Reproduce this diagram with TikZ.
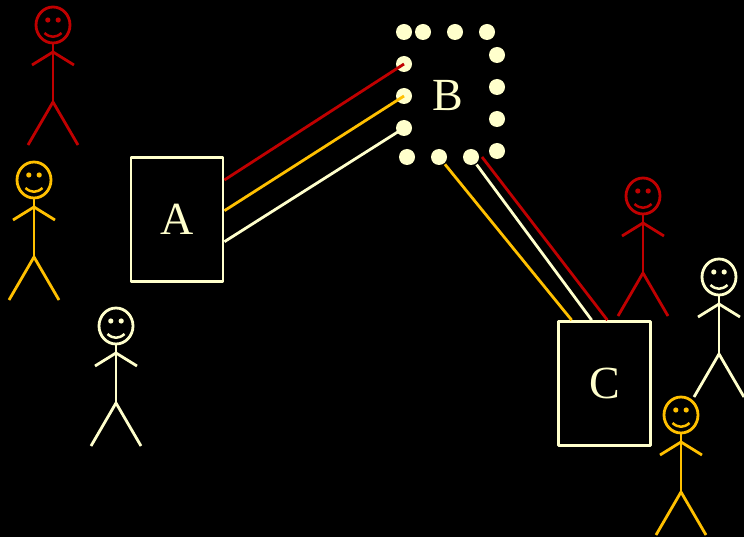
\documentclass[tikz,border=0pt]{standalone}
\usepackage{fontspec}
\setmainfont{Liberation Serif}
\usetikzlibrary{calc,positioning}
\definecolor{darkred}{HTML}{C00000}
\definecolor{gold}{HTML}{FFC000}
\definecolor{cream}{HTML}{FFFFCC}
\tikzset{
    x=1pt,y=-1pt,
    box/.style ={rectangle, draw=cream, text=cream, inner sep=0pt,
        minimum width=92pt, minimum height=124pt, font=\fontsize{46}{46}\selectfont},
    dot/.style = {circle, fill=cream, inner sep=0pt, minimum size=16pt, node contents={}},
    stickman/.pic = {
        % head and face
        \draw (0,0) ellipse [x radius=17pt, y radius=18pt];
        \fill (-5.2,-5) circle [radius=2.6pt];
        \fill (5.2,-5) circle [radius=2.6pt];
        \draw[line width=2.5pt] (-8.5,8) .. controls (-3,13) and (3,13) .. (8.5,8);
        % body, arms, legs
        \draw (0,18) -- (0,77);
        \draw (-21,40) -- (0,27) -- (21,40);
        \draw (-25,120) -- (0,77) -- (25,120);
    }
}

\begin{document}
\begin{tikzpicture}[line width=2.8pt,line join=round]

    \useasboundingbox (0,0) rectangle (744,537);
    \fill[black] (0,0) rectangle (744,537);
    \clip (0,0) rectangle (744,537);

    % people
    \pic[color=darkred] at (53,25) {stickman};
    \pic[color=gold] at (34,180) {stickman};
    \pic[color=cream] at (116,326) {stickman};
    \pic[color=darkred] at (643,196) {stickman};
    \pic[color=cream] at (719,277) {stickman};
    \pic[color=gold] at (681,415) {stickman};

    % A and C
    \node[box] (A) at (177,219.5) {A};
    \node[box] (C) at (604.75,383.5) {C};

    % B with its ring of dots
    \node[text=cream, font=\fontsize{46}{46}\selectfont] (B) at (448,96) {B};
    \node (t1) at (404,32) [dot];
    \node (t2) at (423,32) [dot];
    \node (t3) at (455,32) [dot];
    \node (t4) at (487,32) [dot];
    \node (r1) at (497,55) [dot];
    \node (r2) at (497,87) [dot];
    \node (r3) at (497,119) [dot];
    \node (r4) at (497,151) [dot];
    \node (l1) at (404,64) [dot];
    \node (l2) at (404,96) [dot];
    \node (l3) at (404,128) [dot];
    \node (d1) at (407,157) [dot];
    \node (d2) at (439,157) [dot];
    \node (d3) at (471,157) [dot];
    \coordinate (redend) at (482,157);

    % A to B
    \draw[darkred] ($(A.east)+(0,-39.5)$) -- (l1.center);
    \draw[gold] ($(A.east)+(0,-8.8)$) -- (l2.center);
    \draw[cream] ($(A.east)+(0,22.2)$) -- (l3.center);

    % B to C
    \draw[gold] (d2) -- ($(C.north west)+(14.3,0)$);
    \draw[cream] (d3) -- ($(C.north west)+(34.3,0)$);
    \draw[darkred] (redend) -- ($(C.north west)+(50,0)$);

\end{tikzpicture}
\end{document}
